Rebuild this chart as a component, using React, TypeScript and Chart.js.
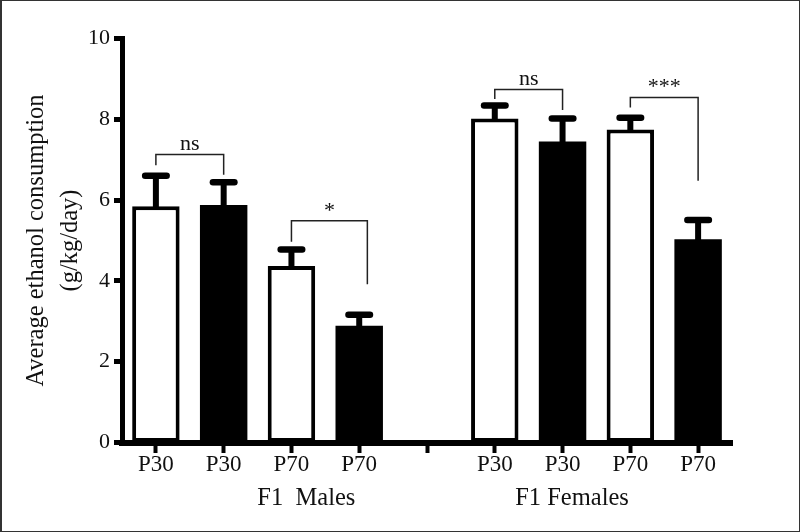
import React, { useEffect, useRef } from 'react';
import { Chart, registerables } from 'chart.js';

Chart.register(...registerables);

const categories = ['P30', 'P30', 'P70', 'P70', '', 'P30', 'P30', 'P70', 'P70'];
const means: (number | null)[] = [5.85, 5.88, 4.37, 2.89, null, 8.02, 7.45, 7.75, 5.03];
const sem: (number | null)[] = [0.75, 0.56, 0.41, 0.27, null, 0.32, 0.57, 0.29, 0.48];
const barIsBlack = [false, true, false, true, false, false, true, false, true];
const yTicks = [0, 2, 4, 6, 8, 10];

const groupLabels = ['F1  Males', 'F1 Females'];
const groupCenters = [2.22, 6.14];

const bracketFrom = [0, 2, 5, 7];
const bracketTo = [1, 3.12, 6, 8];
const bracketTop = [7.13, 5.49, 8.74, 8.54];
const bracketLeftEnd = [6.86, 4.97, 8.5, 8.29];
const bracketRightEnd = [6.63, 3.92, 8.23, 6.48];
const bracketLabels = ['ns', '*', 'ns', '***'];

const yTitle = ['Average ethanol consumption', '(g/kg/day)'];

const FONT = '"Liberation Serif", "Times New Roman", serif';

const annotPlugin = {
  id: 'annot',
  afterDatasetsDraw(chart: any) {
    const ctx = chart.ctx;
    const xs = chart.scales.x;
    const ys = chart.scales.y;
    const meta = chart.getDatasetMeta(0);
    ctx.save();
    // error bars
    means.forEach((m, i) => {
      const e = sem[i];
      if (m == null || e == null) return;
      const bar = meta.data[i];
      const cx = bar.x;
      const top = ys.getPixelForValue(m);
      const cap = ys.getPixelForValue(m + e);
      ctx.strokeStyle = '#000';
      ctx.lineCap = 'butt';
      ctx.lineWidth = 6;
      ctx.beginPath();
      ctx.moveTo(cx, top + 3);
      ctx.lineTo(cx, cap);
      ctx.stroke();
      ctx.lineCap = 'round';
      ctx.lineWidth = 6.5;
      ctx.beginPath();
      ctx.moveTo(cx - 10.75, cap);
      ctx.lineTo(cx + 10.75, cap);
      ctx.stroke();
    });
    // significance brackets
    bracketFrom.forEach((f, j) => {
      const xl = xs.getPixelForValue(f);
      const xr = xs.getPixelForValue(bracketTo[j]);
      const yt = ys.getPixelForValue(bracketTop[j]);
      const yl = ys.getPixelForValue(bracketLeftEnd[j]);
      const yr = ys.getPixelForValue(bracketRightEnd[j]);
      ctx.strokeStyle = '#222';
      ctx.lineWidth = 1.5;
      ctx.lineCap = 'butt';
      ctx.beginPath();
      ctx.moveTo(xl, yl);
      ctx.lineTo(xl, yt);
      ctx.lineTo(xr, yt);
      ctx.lineTo(xr, yr);
      ctx.stroke();
      ctx.fillStyle = '#111';
      ctx.font = `22px ${FONT}`;
      ctx.textAlign = 'center';
      ctx.textBaseline = 'alphabetic';
      ctx.fillText(bracketLabels[j], (xl + xr) / 2, yt - 4);
    });
    ctx.restore();
  },
  afterDraw(chart: any) {
    const ctx = chart.ctx;
    const xs = chart.scales.x;
    ctx.save();
    ctx.fillStyle = '#111';
    ctx.font = `24.5px ${FONT}`;
    ctx.textAlign = 'center';
    ctx.textBaseline = 'middle';
    groupLabels.forEach((g, k) => {
      ctx.fillText(g, xs.getPixelForValue(groupCenters[k]), 499);
    });
    // picture frame
    ctx.fillStyle = '#333';
    ctx.fillRect(0, 0, 2, 532);
    ctx.fillRect(0, 0, 800, 1);
    ctx.fillRect(799, 0, 1, 532);
    ctx.fillRect(0, 531, 800, 1);
    ctx.restore();
  },
};

export default function App() {
  const ref = useRef<HTMLCanvasElement | null>(null);
  useEffect(() => {
    document.body.style.margin = '0';
    if (!ref.current) return;
    const chart = new Chart(ref.current, {
      type: 'bar',
      data: {
        labels: categories,
        datasets: [
          {
            data: means as any,
            backgroundColor: barIsBlack.map((b) => (b ? '#000' : '#fff')),
            borderColor: '#000',
            borderWidth: barIsBlack.map((b) => (b ? 0 : 4)),
            borderSkipped: false,
            barPercentage: 0.7,
            categoryPercentage: 1.0,
          },
        ],
      },
      options: {
        responsive: false,
        animation: false,
        devicePixelRatio: 1,
        layout: { padding: { left: 0, right: 68, top: 38.5, bottom: 49.5 } },
        plugins: {
          legend: { display: false },
          tooltip: { enabled: false },
        },
        scales: {
          x: {
            type: 'category',
            offset: true,
            grid: {
              display: true,
              offset: false,
              drawOnChartArea: false,
              drawTicks: true,
              tickLength: 10.5,
              tickWidth: 4,
              tickColor: '#000',
            },
            border: { display: true, width: 6, color: '#000' },
            ticks: {
              color: '#111',
              font: { family: FONT, size: 23, lineHeight: 1 },
              padding: 0,
              maxRotation: 0,
              autoSkip: false,
            },
            afterFit: (s: any) => {
              s.height = 40;
            },
          },
          y: {
            min: 0,
            max: 10,
            grid: {
              display: true,
              drawOnChartArea: false,
              drawTicks: true,
              tickLength: 8,
              tickWidth: 5,
              tickColor: '#000',
            },
            border: { display: true, width: 5, color: '#000' },
            ticks: {
              color: '#111',
              font: { family: FONT, size: 22 },
              padding: 4,
            },
            afterBuildTicks: (s: any) => {
              s.ticks = yTicks.map((v) => ({ value: v }));
            },
            title: {
              display: true,
              text: yTitle,
              color: '#111',
              font: { family: FONT, size: 24.5, lineHeight: 1.35 },
              padding: { top: 20.5, bottom: 0 },
            },
            afterFit: (s: any) => {
              s.width = 122;
            },
          },
        },
      },
      plugins: [annotPlugin],
    } as any);
    return () => chart.destroy();
  }, []);
  return (
    <div style={{ width: 800, height: 532, background: '#fff' }}>
      <canvas ref={ref} width={800} height={532} style={{ display: 'block' }} />
    </div>
  );
}
